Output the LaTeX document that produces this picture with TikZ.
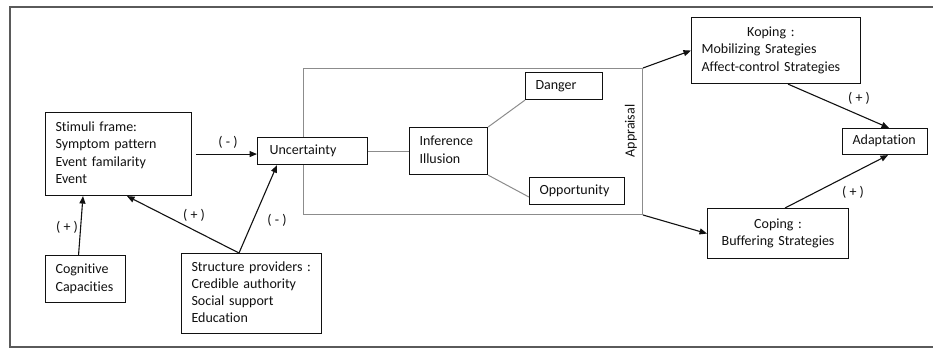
\documentclass[tikz,border=0pt]{standalone}
\usepackage{fontspec}
\setmainfont{Carlito}[Ligatures=NoCommon]
\usetikzlibrary{arrows.meta,calc}
\definecolor{framegray}{HTML}{5A5A5A}
\definecolor{apgray}{HTML}{8C8C8C}
\definecolor{ink}{HTML}{111111}
\newcommand{\bl}[1]{\begin{tabular}{@{}l@{}}#1\end{tabular}}
\newcommand{\bc}[1]{\begin{tabular}{@{}c@{}}#1\end{tabular}}
\begin{document}
\begin{tikzpicture}[x=1pt,y=-1pt,
  font=\fontsize{14}{17.2}\selectfont,
  box/.style={draw=ink, line width=1.1pt, fill=white, inner xsep=10pt, inner ysep=0pt,
              align=left, anchor=north west, text=ink},
  conn/.style={draw=ink, line width=1.1pt, -{Triangle[length=7.5pt,width=6pt]}},
  thinline/.style={draw=apgray, line width=1pt},
  lbl/.style={text=ink, inner sep=0pt}]
\useasboundingbox (0,0) rectangle (933,350);

% outer frame
\draw[framegray, line width=1.1pt] (935,7) -- (10,7) -- (10,347) -- (935,347);

% appraisal region
\node[draw=apgray, line width=1pt, minimum width=339pt, minimum height=146pt,
      anchor=north west, inner sep=0pt] (appr) at (303,68) {};
\node[rotate=90, text=ink, inner sep=0pt] (aptxt) at (631,131) {Appraisal};

% boxes
\node[box, text width=126pt, minimum height=83pt] (stim) at (45,112)
  {\bl{Stimuli frame:\\Symptom pattern\\Event familarity\\Event}};
\node[box, text width=60pt, minimum height=47pt] (cog) at (45,255)
  {\bl{Cognitive\\Capacities}};
\node[box, text width=120pt, minimum height=80pt] (struct) at (181,253)
  {\bl{Structure providers :\\Credible authority\\Social support\\Education}};
\node[box, inner xsep=12pt, text width=86pt, minimum height=27pt] (unc) at (257,137)
  {\bl{Uncertainty}};
\node[box, text width=58pt, minimum height=47pt] (inf) at (409,127)
  {\bl{Inference\\Illusion}};
\node[box, text width=57pt, minimum height=27pt] (danger) at (525,72)
  {\bl{Danger}};
\node[box, text width=75pt, minimum height=27pt] (opp) at (529,177)
  {\bl{Opportunity}};
\node[box, text width=149pt, minimum height=66pt] (kop) at (691,17)
  {\bl{\multicolumn{1}{@{}c@{}}{Koping :}\\Mobilizing Srategies\\Affect-control Strategies}};
\node[box, align=center, text width=121pt, minimum height=50pt] (cop) at (707,208)
  {\bc{Coping :\\Buffering Strategies}};
\node[box, text width=65pt, minimum height=26pt] (adapt) at (842,128)
  {\bl{Adaptation}};

% connectors
\draw[conn] ([xshift=4pt]stim.east) -- (stim.east -| unc.west);
\draw[conn] ([xshift=-7pt]cog.north) -- ([xshift=38pt]stim.south west);
\draw[conn] ([xshift=58pt]struct.north west) -- ([xshift=82pt]stim.south west);
\draw[conn] ([xshift=58pt]struct.north west) -- ([xshift=20pt]unc.south west);
\draw[thinline] (unc.east) -- (inf.west);
\draw[thinline] (inf.north east) -- (danger.south west);
\draw[thinline] (inf.south east) -- ([yshift=-6pt]opp.west);
\draw[conn] (appr.north east) -- (kop.west);
\draw[conn] (appr.south east) -- (cop.west);
\draw[conn] ([xshift=97pt]kop.south west) -- ([xshift=4pt]adapt.north);
\draw[conn] ([xshift=78pt]cop.north west) -- ([xshift=3pt]adapt.south);

% labels
\node[lbl] (l1) at (228,142) {( - )};
\node[lbl] (l2) at (67,227) {( + )};
\node[lbl] (l3) at (194,215) {( + )};
\node[lbl] (l4) at (277,220) {( - )};
\node[lbl] (l5) at (859,98) {( + )};
\node[lbl] (l6) at (853,192) {( + )};
\end{tikzpicture}
\end{document}
